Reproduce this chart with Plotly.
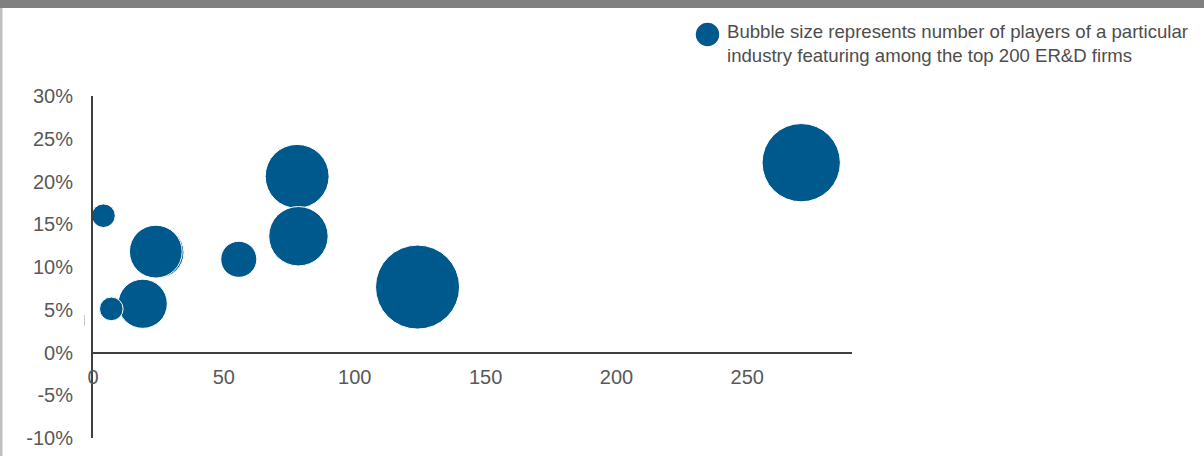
import plotly.graph_objects as go

# ---- data ----
x_values = [4, 25.0, 24, 19, 7, 55.7, 78, 78.5, 124, 270.6]
y_values = [0.16, 0.117, 0.118, 0.057, 0.051, 0.109, 0.206, 0.136, 0.0765, 0.222]
players = [3, 14, 15, 13, 3, 7, 22, 19, 38, 33]

x_tick_vals = [0, 50, 100, 150, 200, 250]
x_tick_text = ["0", "50", "100", "150", "200", "250"]
y_tick_vals = [-0.10, -0.05, 0.0, 0.05, 0.10, 0.15, 0.20, 0.25, 0.30]
y_tick_text = ["-10%", "-5%", "0%", "5%", "10%", "15%", "20%", "25%", "30%"]

legend_text = ("Bubble size represents number of players of a particular<br>"
               "industry featuring among the top 200 ER&D firms")

# ---- styling ----
W, H = 1204, 456
L, R, T, B = 93, 352, 96, 18
PW, PH = W - L - R, H - T - B
BLUE = "#00598C"
FONT = "Liberation Sans, Arial, sans-serif"
TXT = "#595959"
AX = "#404040"


def px_x(px):
    return (px - L) / PW


def px_y(py):
    return (H - B - py) / PH


max_diam = 84
sizeref = 2 * max(players) / (max_diam ** 2)

fig = go.Figure()
fig.add_trace(go.Scatter(
    x=x_values, y=y_values, mode="markers",
    marker=dict(size=players, sizemode="area", sizeref=sizeref,
                color=BLUE, opacity=1, line=dict(color="white", width=1)),
    showlegend=False, hoverinfo="skip", cliponaxis=False,
))

fig.update_layout(
    width=W, height=H,
    margin=dict(l=L, r=R, t=T, b=B, pad=0, autoexpand=False),
    paper_bgcolor="white", plot_bgcolor="white",
    font=dict(family=FONT, color=TXT, size=20),
    xaxis=dict(
        range=[0, 290], tickvals=x_tick_vals, ticktext=x_tick_text,
        showgrid=False, zeroline=False, showline=True, linecolor=AX, linewidth=2,
        anchor="free", position=0.25, ticks="", ticklabelstandoff=6,
        automargin=False,
        tickfont=dict(family=FONT, size=20, color=TXT),
    ),
    yaxis=dict(
        range=[-0.10, 0.30], tickvals=y_tick_vals, ticktext=y_tick_text,
        showgrid=False, zeroline=False, showline=True, linecolor=AX, linewidth=2,
        ticks="", ticklabelstandoff=14, automargin=False,
        tickfont=dict(family=FONT, size=20, color=TXT),
    ),
    shapes=[
        # top grey band
        dict(type="rect", xref="paper", yref="paper",
             x0=px_x(0), x1=px_x(W), y0=px_y(8), y1=px_y(0),
             fillcolor="#808080", line=dict(width=0), layer="above"),
        # left light border
        dict(type="rect", xref="paper", yref="paper",
             x0=px_x(0), x1=px_x(2.5), y0=px_y(H), y1=px_y(8),
             fillcolor="#c0c0c0", line=dict(width=0), layer="above"),
        # small stray tick near 5%
        dict(type="line", xref="paper", yref="paper",
             x0=px_x(84.5), x1=px_x(84.5), y0=px_y(315), y1=px_y(326),
             line=dict(color="#c8c8c8", width=1)),
        # legend bubble
        dict(type="circle", xref="paper", yref="paper",
             x0=px_x(695.8), x1=px_x(719.2), y0=px_y(46.2), y1=px_y(22.8),
             fillcolor=BLUE, line=dict(width=0)),
    ],
    annotations=[
        dict(text=legend_text, xref="paper", yref="paper",
             x=px_x(725), y=px_y(44), xanchor="left", yanchor="middle",
             align="left", showarrow=False,
             font=dict(family=FONT, size=18.6, color="#4d4d4d")),
    ],
)

fig.write_html("out.html")
